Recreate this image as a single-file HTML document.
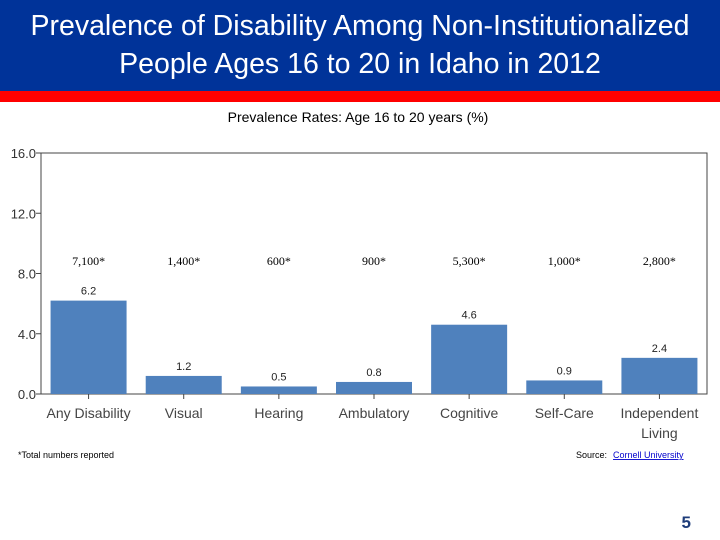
<!DOCTYPE html>
<html><head><meta charset="utf-8"><style>
body{margin:0;width:720px;height:540px;background:#fff;overflow:hidden;font-family:"Liberation Sans",sans-serif;position:relative}
#hdr{position:absolute;left:0;top:0;width:720px;height:91px;background:#003399;color:#fff;text-align:center;font-size:28.5px;line-height:38px;padding-top:7px;box-sizing:border-box;white-space:nowrap}
#red{position:absolute;left:0;top:91px;width:720px;height:11px;background:#ff0000}
</style></head><body>
<div id="hdr">Prevalence of Disability Among Non-Institutionalized<br>People Ages 16 to 20 in Idaho in 2012</div>
<div id="red"></div>
<svg id="chart" width="720" height="540" style="position:absolute;left:0;top:0"></svg>
<script>
const categories=["Any Disability","Visual","Hearing","Ambulatory","Cognitive","Self-Care","Independent|Living"];
const rates=[6.2,1.2,0.5,0.8,4.6,0.9,2.4];
const rateLabels=["6.2","1.2","0.5","0.8","4.6","0.9","2.4"];
const totals=["7,100*","1,400*","600*","900*","5,300*","1,000*","2,800*"];
const yTicks=[0,4,8,12,16];
const yTickLabels=["0.0","4.0","8.0","12.0","16.0"];
const svg=document.getElementById('chart');const NS='http://www.w3.org/2000/svg';
const L=41,R=707,T=153,B=394,yMax=16;
const y=v=>B-(v/yMax)*(B-T);
const band=(R-L)/categories.length;
const xc=i=>L+band*(i+0.5);
function mk(t,a,txt){const e=document.createElementNS(NS,t);for(const k in a)e.setAttribute(k,a[k]);if(txt!=null)e.textContent=txt;svg.appendChild(e);return e;}
let e=mk('text',{x:358,y:122,'text-anchor':'middle','font-size':14,fill:'#000'},'Prevalence Rates: Age 16 to 20 years (%)');


e=mk('rect',{x:L,y:T,width:R-L,height:B-T,fill:'none',stroke:'#444','stroke-width':1});


yTicks.forEach((v,i)=>{
  mk('line',{x1:L-5,x2:L,y1:y(v),y2:y(v),stroke:'#444'});
  e=mk('text',{x:L-5,y:y(v)+5,'text-anchor':'end','font-size':13,fill:'#333'},yTickLabels[i]);
  
  
});
categories.forEach((c,i)=>{
  const cx=xc(i),bw=76;
  e=mk('rect',{x:cx-bw/2,y:y(rates[i]),width:bw,height:B-y(rates[i]),fill:'#4f81bd'});
  
  
  mk('line',{x1:cx,x2:cx,y1:B,y2:B+5,stroke:'#444'});
  e=mk('text',{x:cx,y:y(rates[i])-6,'text-anchor':'middle','font-size':11,fill:'#222'},rateLabels[i]);
  
  
  e=mk('text',{x:cx,y:265,'text-anchor':'middle','font-size':12,'font-family':'Liberation Serif, serif',fill:'#000'},totals[i]);
  
  
  c.split('|').forEach((p,j)=>{
    e=mk('text',{x:cx,y:418+j*20,'text-anchor':'middle','font-size':14,fill:'#444'},p);
    
    
  });
});
e=mk('text',{x:18,y:458,'font-size':9,fill:'#000'},'*Total numbers reported');


e=mk('text',{x:576,y:458,'font-size':9,fill:'#000'},'Source: ');


e=mk('text',{x:613,y:458,'font-size':9,fill:'#0000cc','text-decoration':'underline'},'Cornell University');


e=mk('text',{x:691,y:528,'text-anchor':'end','font-size':17,'font-weight':'bold',fill:'#1f3d7a'},'5');


</script>
</body></html>
